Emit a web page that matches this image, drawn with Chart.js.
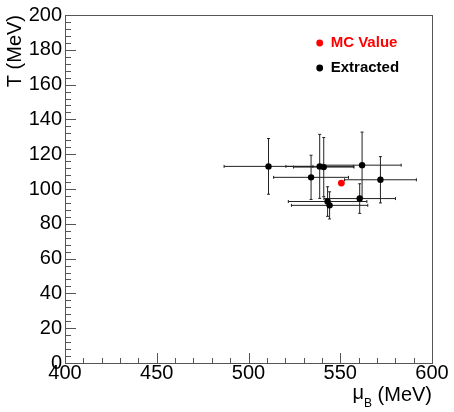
<!DOCTYPE html>
<html lang="en">
<head>
  <meta charset="UTF-8" />
  <title>T vs muB</title>
  <script src="https://cdn.jsdelivr.net/npm/chart.js"></script>
  <style>
    body {
      margin: 0;
      background: #fff;
    }
    #wrap {
      width: 454px;
      height: 412px;
    }
  </style>
</head>
<body>
  <div id="wrap"><canvas id="tChart" width="454" height="412"></canvas></div>

  <script>
    // extracted points (mu_B, T) with errors, MeV
    const extractedMuB = [510.9, 534.1, 538.8, 541.0, 561.9, 571.9, 560.6, 543.1, 544.2];
    const extractedT = [113.0, 106.7, 113.0, 112.6, 113.7, 105.3, 94.5, 92.8, 90.6];
    const extractedMuBErr = [24.2, 20.4, 18.4, 16.5, 21.3, 19.6, 19.5, 21.4, 20.8];
    const extractedTErr = [16.0, 12.7, 18.4, 17.0, 19.0, 13.3, 8.5, 8.5, 7.8];

    // MC input value
    const mcMuB = [550.6];
    const mcT = [103.4];

    const legendLabels = ['MC Value', 'Extracted'];
    const legendColors = ['#ff0000', '#000000'];

    const FONT = "'Liberation Sans', Helvetica, Arial, sans-serif";

    // error bars, ROOT style
    const errorBars = {
      id: 'errorBars',
      beforeDatasetsDraw(chart) {
        const ctx = chart.ctx;
        const xs = chart.scales.x, ys = chart.scales.y;
        ctx.save();
        ctx.strokeStyle = '#222';
        ctx.lineWidth = 1;
        for (let i = 0; i < extractedMuB.length; i++) {
          const x = xs.getPixelForValue(extractedMuB[i]);
          const y = ys.getPixelForValue(extractedT[i]);
          const x1 = xs.getPixelForValue(extractedMuB[i] - extractedMuBErr[i]);
          const x2 = xs.getPixelForValue(extractedMuB[i] + extractedMuBErr[i]);
          const y1 = ys.getPixelForValue(extractedT[i] - extractedTErr[i]);
          const y2 = ys.getPixelForValue(extractedT[i] + extractedTErr[i]);
          ctx.beginPath();
          ctx.moveTo(x1, y); ctx.lineTo(x2, y);
          ctx.moveTo(x, y1); ctx.lineTo(x, y2);
          // small end caps
          ctx.moveTo(x1, y - 1.5); ctx.lineTo(x1, y + 1.5);
          ctx.moveTo(x2, y - 1.5); ctx.lineTo(x2, y + 1.5);
          ctx.moveTo(x - 1.5, y1); ctx.lineTo(x + 1.5, y1);
          ctx.moveTo(x - 1.5, y2); ctx.lineTo(x + 1.5, y2);
          ctx.stroke();
        }
        ctx.restore();
      }
    };

    // frame, inward ticks, x title and legend
    const rootFrame = {
      id: 'rootFrame',
      afterDraw(chart) {
        const ctx = chart.ctx;
        const a = chart.chartArea;
        const xs = chart.scales.x, ys = chart.scales.y;
        ctx.save();
        ctx.strokeStyle = '#555';
        ctx.lineWidth = 1;
        ctx.strokeRect(Math.round(a.left) + 0.5, Math.round(a.top) + 0.5,
          Math.round(a.right - a.left), Math.round(a.bottom - a.top));

        ctx.beginPath();
        for (let v = xs.min; v <= xs.max + 0.001; v += 10) {
          const px = Math.round(xs.getPixelForValue(v)) + 0.5;
          const len = (v % 50 === 0) ? 10 : 5;
          ctx.moveTo(px, a.bottom); ctx.lineTo(px, a.bottom - len);
        }
        for (let v = ys.min; v <= ys.max + 0.001; v += 4) {
          const py = Math.round(ys.getPixelForValue(v)) + 0.5;
          const len = (v % 20 === 0) ? 11 : 6;
          ctx.moveTo(a.left, py); ctx.lineTo(a.left + len, py);
        }
        ctx.stroke();

        // x title with subscript
        ctx.fillStyle = '#000';
        ctx.textBaseline = 'alphabetic';
        ctx.textAlign = 'left';
        const big = '20px ' + FONT, small = '12px ' + FONT;
        ctx.font = big;
        const wMu = ctx.measureText('\u03bc').width;
        const wRest = ctx.measureText(' (MeV)').width;
        ctx.font = small;
        const wB = ctx.measureText('B').width;
        let tx = a.right - (wMu + wB + wRest);
        const base = 401;
        ctx.font = big;
        ctx.fillText('\u03bc', tx, base - 2);
        tx += wMu;
        ctx.font = small;
        ctx.fillText('B', tx, base + 6);
        tx += wB;
        ctx.font = big;
        ctx.fillText(' (MeV)', tx, base);

        // legend
        ctx.font = 'bold 15px ' + FONT;
        ctx.textBaseline = 'middle';
        const lx = a.left + (a.right - a.left) * 0.694;
        const ly = [43, 68];
        legendLabels.forEach((t, i) => {
          ctx.fillStyle = legendColors[i];
          ctx.beginPath();
          ctx.arc(lx, ly[i], 3.4, 0, Math.PI * 2);
          ctx.fill();
          ctx.fillText(t, lx + 11, ly[i]);
        });
        ctx.restore();
      }
    };

    const ctx = document.getElementById('tChart').getContext('2d');
    new Chart(ctx, {
      type: 'scatter',
      data: {
        datasets: [
          {
            label: 'Extracted',
            data: extractedMuB.map((x, i) => ({ x, y: extractedT[i] })),
            backgroundColor: '#000',
            borderColor: '#000',
            pointRadius: 3.2,
            pointBorderWidth: 0
          },
          {
            label: 'MC Value',
            data: mcMuB.map((x, i) => ({ x, y: mcT[i] })),
            backgroundColor: '#ff0000',
            borderColor: '#ff0000',
            pointRadius: 3.4,
            pointBorderWidth: 0
          }
        ]
      },
      options: {
        responsive: false,
        animation: false,
        layout: { padding: { top: 9, right: 22, left: 0, bottom: 0 } },
        plugins: {
          legend: { display: false },
          tooltip: { enabled: false }
        },
        scales: {
          x: {
            type: 'linear',
            min: 400,
            max: 600,
            afterFit: s => { s.height = 49; },
            grid: { display: false, drawTicks: false },
            border: { display: false },
            ticks: {
              stepSize: 50,
              padding: -2,
              color: '#000',
              font: { family: FONT, size: 20 },
              maxRotation: 0
            }
          },
          y: {
            type: 'linear',
            min: 0,
            max: 200,
            afterFit: s => { s.width = 65; },
            grid: { display: false, drawTicks: false },
            border: { display: false },
            ticks: {
              stepSize: 20,
              padding: 3,
              color: '#000',
              font: { family: FONT, size: 20 }
            },
            title: {
              display: true,
              text: 'T (MeV)',
              align: 'end',
              color: '#000',
              font: { family: FONT, size: 20 },
              padding: { top: 3, bottom: 0 }
            }
          }
        }
      },
      plugins: [errorBars, rootFrame]
    });
  </script>
</body>
</html>
